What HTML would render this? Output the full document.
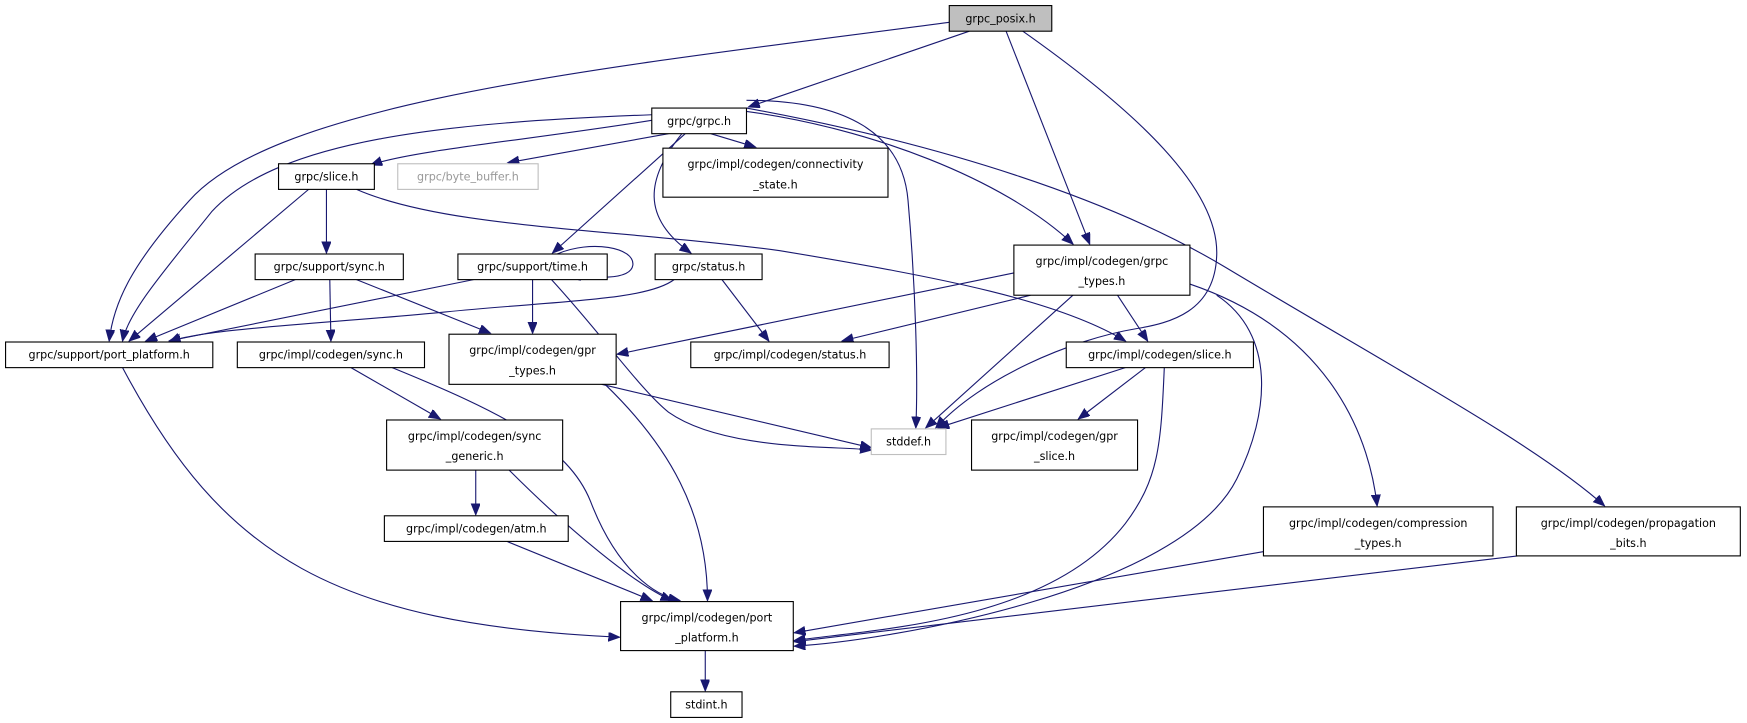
<!DOCTYPE html>
<html><head><meta charset="utf-8"><style>
html,body{margin:0;padding:0;background:#fff;}
svg{display:block;}
text{font-family:"DejaVu Sans","Liberation Sans",sans-serif;font-size:10px;fill:#000;}
</style></head><body>
<svg width="1747" height="723" viewBox="0 0 1568 649" preserveAspectRatio="none" xmlns="http://www.w3.org/2000/svg">
<defs>
<marker id="a" markerUnits="userSpaceOnUse" markerWidth="12" markerHeight="10" refX="10" refY="4" orient="auto">
<path d="M0,0 L10,4 L0,8 Z" fill="#191970" stroke="#191970"/>
</marker>
</defs>
<g fill="none" stroke="#191970" stroke-width="1" marker-end="url(#a)">
<path d="M852,20 C550,60 250,90 170,180 C120,235 102,270 98,306"/>
<path d="M870,28 L672,96"/>
<path d="M903,28 L978,219"/>
<path d="M918,28 C1020,100 1095,170 1092,230 C1090,280 1050,290 1020,295 C960,305 880,340 840,384"/>
<path d="M585,103 C400,110 250,125 190,190 C150,240 115,280 110,306"/>
<path d="M585,108 C480,125 370,135 333,148"/>
<path d="M600,120 L456,146"/>
<path d="M638,120 L678,132"/>
<path d="M615,120 L496,227"/>
<path d="M612,120 C580,160 575,195 620,227"/>
<path d="M670,90 C760,90 810,120 815,180 C822,260 824,340 822,384"/>
<path d="M670,100 C780,115 900,160 963,219"/>
<path d="M670,97 C850,130 1000,180 1100,240 C1250,330 1380,400 1440,454"/>
<path d="M277,170 L116,306"/>
<path d="M293,170 L293,227"/>
<path d="M320,170 C400,205 550,205 700,225 C850,250 950,270 1010,306"/>
<path d="M265,251 L131,306"/>
<path d="M296,251 L297,306"/>
<path d="M320,251 L440,299"/>
<path d="M425,251 L152,306"/>
<path d="M478,251 L478,299"/>
<path d="M500,228 C530,215 570,222 568,238 C566,252 530,250 512,246"/>
<path d="M495,251 C540,300 575,350 600,370 C650,405 750,400 782,404"/>
<path d="M605,251 C580,270 500,270 400,280 C300,290 180,295 152,307"/>
<path d="M648,251 L690,306"/>
<path d="M910,245 L554,318"/>
<path d="M925,265 L756,306"/>
<path d="M963,265 L831,384"/>
<path d="M1003,265 L1030,306"/>
<path d="M1092,265 C1145,300 1140,370 1110,430 C1060,530 800,575 713,580"/>
<path d="M1068,255 C1200,300 1230,400 1236,454"/>
<path d="M110,330 C200,500 300,560 556,572"/>
<path d="M315,330 L395,376"/>
<path d="M352,330 C450,370 510,400 530,450 C555,515 590,535 610,539"/>
<path d="M540,345 L782,402"/>
<path d="M543,345 C600,400 635,460 635,539"/>
<path d="M1010,330 L842,384"/>
<path d="M1028,330 L968,376"/>
<path d="M1045,330 C1042,400 1040,430 1010,470 C940,560 780,565 713,575"/>
<path d="M427,422 L427,462"/>
<path d="M457,422 C510,475 570,525 603,539"/>
<path d="M455,486 L585,539"/>
<path d="M1135,495 L713,568"/>
<path d="M1362,499 L713,576"/>
<path d="M633,584 L633,620"/>
</g>
<g stroke="#000" stroke-width="1" fill="#fff">
<rect x="852" y="5" width="92" height="23" fill="#bfbfbf"/>
<rect x="585" y="97" width="85" height="23"/>
<rect x="250" y="147" width="86" height="23"/>
<rect x="357" y="147" width="126" height="23" stroke="#bfbfbf"/>
<rect x="595" y="133" width="202" height="44"/>
<rect x="229" y="228" width="133" height="23"/>
<rect x="411" y="228" width="134" height="23"/>
<rect x="588" y="228" width="96" height="23"/>
<rect x="910" y="220" width="158" height="45"/>
<rect x="5" y="307" width="186" height="23"/>
<rect x="213" y="307" width="168" height="23"/>
<rect x="403" y="300" width="150" height="45"/>
<rect x="620" y="307" width="178" height="23"/>
<rect x="957" y="307" width="168" height="23"/>
<rect x="782" y="385" width="67" height="23" stroke="#bfbfbf"/>
<rect x="872" y="377" width="149" height="45"/>
<rect x="347" y="377" width="158" height="45"/>
<rect x="345" y="463" width="165" height="23"/>
<rect x="1134" y="455" width="206" height="44"/>
<rect x="1361" y="455" width="201" height="44"/>
<rect x="557" y="540" width="155" height="44"/>
<rect x="602" y="621" width="64" height="23"/>
</g>
<g text-anchor="middle">
<text x="898" y="20">grpc_posix.h</text>
<text x="627.5" y="112">grpc/grpc.h</text>
<text x="293" y="162">grpc/slice.h</text>
<text x="420" y="162" style="fill:#999">grpc/byte_buffer.h</text>
<text x="696" y="151">grpc/impl/codegen/connectivity</text>
<text x="696" y="169">_state.h</text>
<text x="295.5" y="243">grpc/support/sync.h</text>
<text x="478" y="243">grpc/support/time.h</text>
<text x="636" y="243">grpc/status.h</text>
<text x="989" y="238">grpc/impl/codegen/grpc</text>
<text x="989" y="256">_types.h</text>
<text x="98" y="322">grpc/support/port_platform.h</text>
<text x="297" y="322">grpc/impl/codegen/sync.h</text>
<text x="478" y="318">grpc/impl/codegen/gpr</text>
<text x="478" y="336">_types.h</text>
<text x="709" y="322">grpc/impl/codegen/status.h</text>
<text x="1041" y="322">grpc/impl/codegen/slice.h</text>
<text x="815.5" y="400">stddef.h</text>
<text x="946.5" y="395">grpc/impl/codegen/gpr</text>
<text x="946.5" y="413">_slice.h</text>
<text x="426" y="395">grpc/impl/codegen/sync</text>
<text x="426" y="413">_generic.h</text>
<text x="427.5" y="478">grpc/impl/codegen/atm.h</text>
<text x="1237" y="473">grpc/impl/codegen/compression</text>
<text x="1237" y="491">_types.h</text>
<text x="1461.5" y="473">grpc/impl/codegen/propagation</text>
<text x="1461.5" y="491">_bits.h</text>
<text x="634.5" y="558">grpc/impl/codegen/port</text>
<text x="634.5" y="576">_platform.h</text>
<text x="634" y="636">stdint.h</text>
</g>
</svg>
</body></html>
